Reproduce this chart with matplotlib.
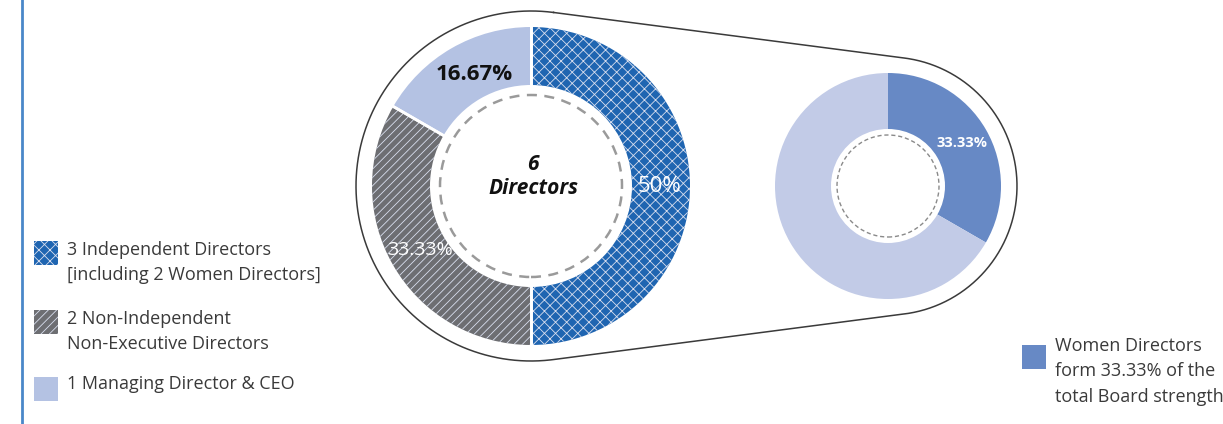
import matplotlib
matplotlib.use("Agg")
import matplotlib.pyplot as plt
from matplotlib.patches import Circle
import numpy as np

plt.rcParams['font.family'] = ['Open Sans', 'DejaVu Sans']
plt.rcParams['hatch.linewidth'] = 0.6

W, H = 1223, 424

# board composition
board_labels = ["3 Independent Directors\n[including 2 Women Directors]",
                "2 Non-Independent\nNon-Executive Directors",
                "1 Managing Director & CEO"]
board_counts = [3, 2, 1]
board_colors = ["#1f65b1", "#6d6e72", "#b4c2e3"]
board_hatch = ["xxx", "////", None]
board_txtcol = ["white", "white", "#111111"]
board_weight = ["normal", "normal", "bold"]
board_fs = [16, 14, 16]

# women share
women_counts = [2, 4]
women_colors = ["#6789c5", "#c2cbe7"]
women_note = "Women Directors\nform 33.33% of the\ntotal Board strength"


def fmt(p):
    return "{:.2f}".format(p).rstrip("0").rstrip(".") + "%"


fig = plt.figure(figsize=(W / 100, H / 100), dpi=100)
ax = fig.add_axes([0, 0, 1, 1])

c1 = (531, H - 186)
c2 = (888, H - 186)

# envelope outline around both donuts
R1, R2 = 175, 129
d = c2[0] - c1[0]
a = np.arcsin((R1 - R2) / d)
t1 = np.linspace(np.pi / 2 - a, 3 * np.pi / 2 + a, 200)
t2 = np.linspace(-np.pi / 2 + a, np.pi / 2 - a, 200)
xs = np.concatenate([c1[0] + R1 * np.cos(t1), c2[0] + R2 * np.cos(t2)])
ys = np.concatenate([c1[1] + R1 * np.sin(t1), c2[1] + R2 * np.sin(t2)])
xs = np.append(xs, xs[0])
ys = np.append(ys, ys[0])
ax.plot(xs, ys, color="#3a3a3a", lw=1.1, zorder=1)

# left donut
wedges, _, autotexts = ax.pie(board_counts, center=c1, radius=159,
                              startangle=90, counterclock=False,
                              colors=board_colors, autopct=fmt,
                              pctdistance=0.81,
                              wedgeprops=dict(width=58, linewidth=0))
for w, h in zip(wedges, board_hatch):
    w.set_zorder(2)
    if h:
        w.set_hatch(h)
        w.set_edgecolor("#d8deee")
        w.set_linewidth(0)
for t, c, wt, fs in zip(autotexts, board_txtcol, board_weight, board_fs):
    t.set_color(c)
    t.set_fontsize(fs)
    t.set_fontweight(wt)
    t.set_zorder(5)
autotexts[2].set_x(autotexts[2].get_position()[0] + 8)
# white separators between wedges
for w in wedges:
    for ang in (w.theta1, w.theta2):
        r = np.deg2rad(ang)
        ax.plot([c1[0] + 100 * np.cos(r), c1[0] + 160 * np.cos(r)],
                [c1[1] + 100 * np.sin(r), c1[1] + 160 * np.sin(r)],
                color="white", lw=2, zorder=3)
ax.add_patch(Circle(c1, 91, fill=False, ls=(0, (4, 3)), lw=1.8, ec="#9a9a9a", zorder=4))
ax.text(c1[0] + 2, c1[1] + 22, "6", ha="center", va="center", fontsize=15,
        fontweight="bold", fontstyle="italic", color="#111111")
ax.text(c1[0] + 2, c1[1] - 2, "Directors", ha="center", va="center", fontsize=15,
        fontweight="bold", fontstyle="italic", color="#111111")

# right donut
w2, _, at2 = ax.pie(women_counts, center=c2, radius=113,
                    startangle=90, counterclock=False,
                    colors=women_colors,
                    autopct=lambda p: fmt(p) if p < 50 else "",
                    pctdistance=0.76,
                    wedgeprops=dict(width=56, linewidth=0))
for t in at2:
    t.set_color("white")
    t.set_fontsize(10.5)
    t.set_fontweight("bold")
ax.add_patch(Circle(c2, 51, fill=False, ls=(0, (3, 2)), lw=1, ec="#8a8a8a", zorder=4))

# left legend
leg_y = [241, 310, 377]
for y, lab, col, h in zip(leg_y, board_labels, board_colors, board_hatch):
    ax.add_patch(plt.Rectangle((34, H - y - 24), 24, 24, fc=col,
                               ec="#d8deee" if h else col, lw=0, hatch=h))
    ax.text(67, H - y + (0 if "\n" in lab else 2), lab, ha="left", va="top",
            fontsize=13, color="#3a3a3a", linespacing=1.5)

# right legend
ax.add_patch(plt.Rectangle((1022, H - 369), 24, 24, fc=women_colors[0], lw=0))
ax.text(1055, H - 337, women_note, ha="left", va="top", fontsize=13,
        color="#3a3a3a", linespacing=1.52)

# vertical rule at left
ax.plot([22, 22], [0, H], color="#4a87c9", lw=2)

ax.set_xlim(0, W)
ax.set_ylim(0, H)
ax.set_aspect("equal")
ax.axis("off")
fig.savefig("out.png", dpi=100)
